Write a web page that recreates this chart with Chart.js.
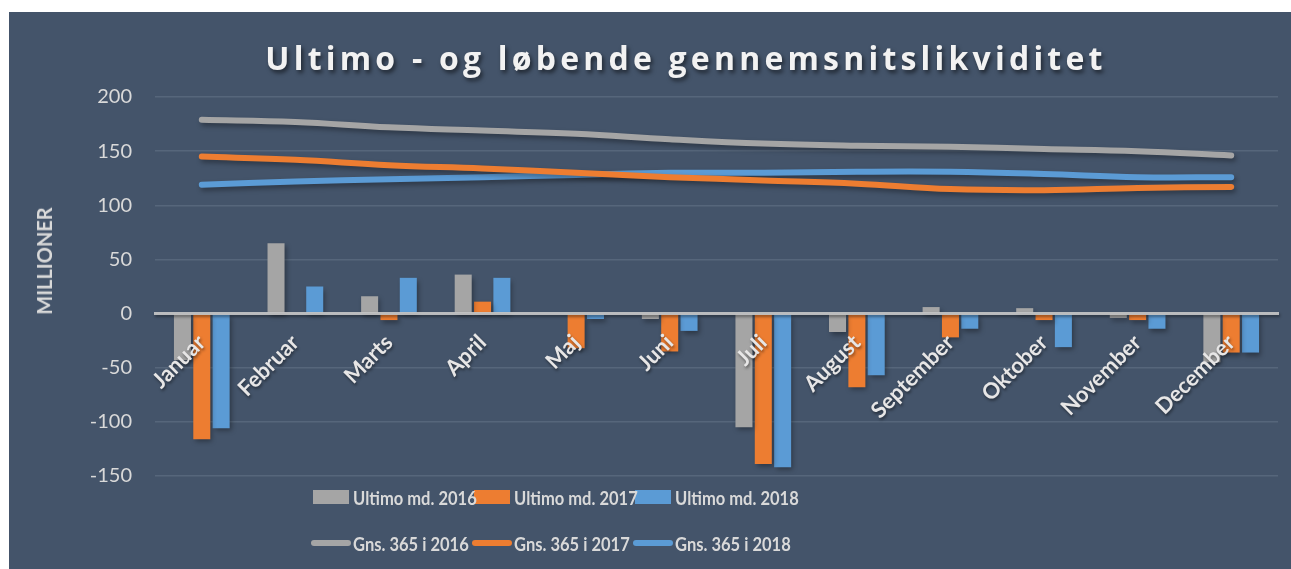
<!DOCTYPE html>
<html lang="da">
<head>
  <meta charset="UTF-8">
  <title>Ultimo - og løbende gennemsnitslikviditet</title>
  <script src="https://cdn.jsdelivr.net/npm/chart.js"></script>
  <style>
    html, body {
      margin: 0;
      padding: 0;
      width: 1291px;
      height: 569px;
      background: #ffffff;
      overflow: hidden;
      font-family: Lato, 'Open Sans', sans-serif;
    }
    .panel {
      position: absolute;
      left: 9px;
      top: 12px;
      width: 1282px;
      height: 557px;
      background: #44546a;
    }
    .chart-box {
      position: absolute;
      left: 0;
      top: 0;
      width: 1282px;
      height: 557px;
    }
    #title {
      position: absolute;
      left: 677px;
      top: 24px;
      transform: translateX(-50%);
      white-space: nowrap;
      font-family: 'Open Sans', sans-serif;
      font-weight: bold;
      font-size: 32px;
      letter-spacing: 4.2px;
      color: #f2f2f2;
      text-shadow: 2px 3px 4px rgba(0, 0, 0, 0.55);
    }
    #ytitle {
      position: absolute;
      left: 35px;
      top: 249px;
      transform: translate(-50%, -50%) rotate(-90deg);
      white-space: nowrap;
      font-weight: bold;
      font-size: 20px;
      color: #d9d9d9;
    }
    .legend-row {
      position: absolute;
      display: flex;
      align-items: center;
      height: 24px;
    }
    .legend-item {
      display: flex;
      align-items: center;
      width: 161px;
      font-weight: bold;
      font-size: 19px;
      color: #d9d9d9;
      white-space: nowrap;
    }
    .legend-item .txt {
      display: inline-block;
      transform: scaleX(0.87);
      transform-origin: left center;
    }
    .legend-item .box {
      flex-shrink: 0;
      width: 36px;
      height: 14px;
      margin-right: 4px;
    }
    .legend-item .line {
      flex-shrink: 0;
      width: 40px;
      height: 6px;
      border-radius: 3px;
      margin-right: 2px;
    }
  </style>
</head>
<body>
  <div class="panel">
    <div class="chart-box">
      <canvas id="chart"></canvas>
    </div>
    <div id="title">Ultimo - og løbende gennemsnitslikviditet</div>
    <div id="ytitle">MILLIONER</div>
    <div class="legend-row" id="legend1" style="left: 304px; top: 473px;"></div>
    <div class="legend-row" id="legend2" style="left: 302px; top: 519px;"></div>
  </div>

<script>
  const months = ['Januar', 'Februar', 'Marts', 'April', 'Maj', 'Juni',
                  'Juli', 'August', 'September', 'Oktober', 'November', 'December'];

  // ultimo balance per month (millions)
  const ultimo2016 = [-43, 65, 16, 36, 0, -5, -105, -17, 6, 5, -4, -45];
  const ultimo2017 = [-116, 0, -6, 11, -32, -35, -139, -68, -22, -6, -6, -36];
  const ultimo2018 = [-106, 25, 33, 33, -5, -16, -142, -57, -14, -31, -14, -36];

  // running 365-day average
  const gns2016 = [179, 177, 172, 169, 166, 161, 157, 155, 154, 152, 150, 146];
  const gns2017 = [145, 142, 137, 134, 130, 126, 123, 120, 115, 114, 116, 117];
  const gns2018 = [119, 122, 124, 126, 128, 130, 130, 131, 131, 129, 126, 126];

  const yTicks = [-150, -100, -50, 0, 50, 100, 150, 200];

  const gray = '#a5a5a5';
  const orange = '#ed7d31';
  const blue = '#5b9bd5';

  // soft drop shadow under bars, lines and the month labels, like the Excel original
  const shadowPlugin = {
    id: 'shadow',
    beforeDatasetDraw(chart) {
      const ctx = chart.ctx;
      ctx.save();
      ctx.shadowColor = 'rgba(0, 0, 0, 0.35)';
      ctx.shadowBlur = 5;
      ctx.shadowOffsetX = 2;
      ctx.shadowOffsetY = 3;
    },
    afterDatasetDraw(chart) {
      chart.ctx.restore();
    },
    afterDatasetsDraw(chart) {
      const ctx = chart.ctx;
      ctx.save();
      ctx.shadowColor = 'rgba(0, 0, 0, 0.45)';
      ctx.shadowBlur = 3;
      ctx.shadowOffsetX = 1;
      ctx.shadowOffsetY = 2;
    },
    afterDraw(chart) {
      chart.ctx.restore();
    }
  };

  function barSet(label, data, color) {
    return {
      type: 'bar',
      label: label,
      data: data,
      backgroundColor: color,
      borderWidth: 0,
      categoryPercentage: 0.62,
      barPercentage: 0.88,
      order: 2
    };
  }

  function lineSet(label, data, color) {
    return {
      type: 'line',
      label: label,
      data: data,
      borderColor: color,
      backgroundColor: color,
      borderWidth: 6,
      borderCapStyle: 'round',
      borderJoinStyle: 'round',
      pointRadius: 0,
      pointHoverRadius: 0,
      tension: 0.4,
      fill: false,
      order: 1
    };
  }

  const ctx = document.getElementById('chart').getContext('2d');
  const chart = new Chart(ctx, {
    data: {
      labels: months,
      datasets: [
        barSet('Ultimo md. 2016', ultimo2016, gray),
        barSet('Ultimo md. 2017', ultimo2017, orange),
        barSet('Ultimo md. 2018', ultimo2018, blue),
        lineSet('Gns. 365 i 2016', gns2016, gray),
        lineSet('Gns. 365 i 2017', gns2017, orange),
        lineSet('Gns. 365 i 2018', gns2018, blue)
      ]
    },
    options: {
      responsive: true,
      maintainAspectRatio: false,
      animation: false,
      layout: {
        padding: { top: 85, bottom: 93, left: 0, right: 13 }
      },
      plugins: {
        legend: { display: false },
        title: { display: false },
        tooltip: { enabled: false }
      },
      scales: {
        x: {
          position: { y: 0 },
          grid: { display: false, drawTicks: false },
          border: { display: true, z: 1, color: 'rgba(200, 200, 200, 0.9)', width: 3, dash: [2, 2] },
          ticks: {
            z: 2,
            autoSkip: false,
            minRotation: 45,
            maxRotation: 45,
            padding: 16,
            color: '#e7e6e6',
            font: { family: 'Lato', size: 22, weight: 'bold' }
          }
        },
        y: {
          min: -150,
          max: 200,
          afterFit(scale) { scale.width = 146; },
          afterBuildTicks(scale) { scale.ticks = yTicks.map(v => ({ value: v })); },
          grid: { color: '#56667b', lineWidth: 1.5, drawTicks: false },
          border: { display: false },
          ticks: {
            padding: 23,
            color: '#d9d9d9',
            font: { family: 'Lato', size: 20 }
          }
        }
      }
    },
    plugins: [shadowPlugin]
  });

  // html legend built from the datasets, two rows like the original
  chart.data.datasets.forEach(function(ds, i) {
    const item = document.createElement('div');
    item.className = 'legend-item';
    const mark = document.createElement('span');
    mark.className = ds.type === 'bar' ? 'box' : 'line';
    mark.style.background = ds.type === 'bar' ? ds.backgroundColor : ds.borderColor;
    const text = document.createElement('span');
    text.className = 'txt';
    text.textContent = ds.label;
    item.appendChild(mark);
    item.appendChild(text);
    document.getElementById(i < 3 ? 'legend1' : 'legend2').appendChild(item);
  });
</script>
</body>
</html>
